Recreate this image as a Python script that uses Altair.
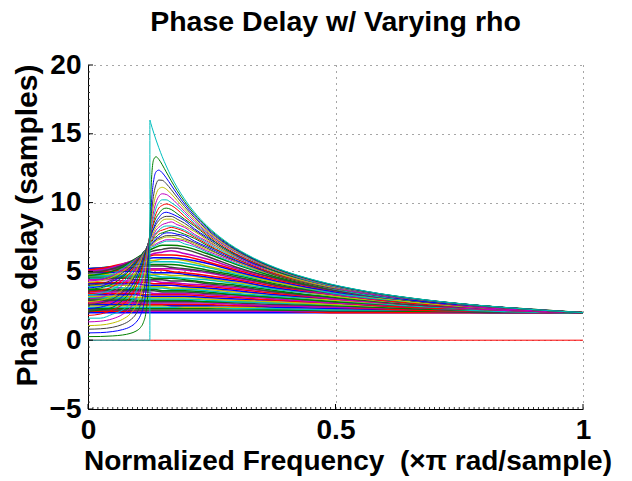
import pandas as pd
import altair as alt

# ---------------- data read / tabulated for the chart ----------------
# frequency grids (x pi rad/sample)
X_FINE = [0, 0.025, 0.05, 0.07, 0.085, 0.097, 0.106, 0.112, 0.117, 0.1205, 0.123, 0.125,
          0.127, 0.1295, 0.133, 0.1375, 0.143, 0.15, 0.158, 0.168, 0.18, 0.195, 0.215,
          0.24, 0.275, 0.32, 0.38, 0.46, 0.56, 0.68, 0.83, 1.0]
X_COARSE = [0, 0.04, 0.075, 0.1, 0.117, 0.133, 0.15, 0.168, 0.195, 0.24, 0.3, 0.38, 0.5, 0.65, 0.83, 1.0]

# phase delay (samples) for each rho, on X_COARSE
pd_000 = [2.0, 2.0, 2.0, 2.0, 2.0, 2.0, 2.0, 2.0, 2.0, 2.0, 2.0, 2.0, 2.0, 2.0, 2.0, 2.0]
pd_002 = [2.1, 2.1, 2.1, 2.1, 2.1, 2.1, 2.1, 2.1, 2.1, 2.1, 2.1, 2.1, 2.0, 2.0, 2.0, 2.0]
pd_004 = [2.2, 2.2, 2.2, 2.1, 2.1, 2.1, 2.1, 2.1, 2.1, 2.1, 2.1, 2.1, 2.1, 2.1, 2.0, 2.0]
pd_006 = [2.2, 2.2, 2.2, 2.2, 2.2, 2.2, 2.2, 2.2, 2.2, 2.2, 2.2, 2.2, 2.1, 2.1, 2.0, 2.0]
pd_008 = [2.3, 2.3, 2.3, 2.3, 2.3, 2.3, 2.3, 2.3, 2.3, 2.3, 2.3, 2.2, 2.2, 2.1, 2.1, 2.0]
pd_010 = [2.4, 2.4, 2.4, 2.4, 2.4, 2.4, 2.4, 2.4, 2.4, 2.4, 2.3, 2.3, 2.2, 2.2, 2.1, 2.0]
pd_012 = [2.5, 2.5, 2.5, 2.5, 2.5, 2.5, 2.5, 2.5, 2.4, 2.4, 2.4, 2.4, 2.3, 2.2, 2.1, 2.0]
pd_014 = [2.6, 2.6, 2.6, 2.6, 2.6, 2.6, 2.6, 2.5, 2.5, 2.5, 2.5, 2.4, 2.3, 2.2, 2.1, 2.0]
pd_016 = [2.7, 2.7, 2.7, 2.7, 2.6, 2.6, 2.6, 2.6, 2.6, 2.6, 2.5, 2.5, 2.4, 2.2, 2.1, 2.0]
pd_018 = [2.8, 2.8, 2.8, 2.7, 2.7, 2.7, 2.7, 2.7, 2.7, 2.7, 2.6, 2.5, 2.4, 2.3, 2.1, 2.0]
pd_020 = [2.9, 2.9, 2.9, 2.8, 2.8, 2.8, 2.8, 2.8, 2.8, 2.8, 2.7, 2.6, 2.5, 2.3, 2.1, 2.0]
pd_022 = [3.0, 3.0, 3.0, 2.9, 2.9, 2.9, 2.9, 2.9, 2.9, 2.8, 2.8, 2.7, 2.5, 2.3, 2.1, 2.0]
pd_024 = [3.1, 3.1, 3.1, 3.0, 3.0, 3.0, 3.0, 3.0, 3.0, 2.9, 2.8, 2.7, 2.6, 2.4, 2.1, 2.0]
pd_026 = [3.2, 3.2, 3.2, 3.1, 3.1, 3.1, 3.1, 3.1, 3.1, 3.0, 2.9, 2.8, 2.6, 2.4, 2.2, 2.0]
pd_028 = [3.3, 3.3, 3.3, 3.3, 3.2, 3.2, 3.2, 3.2, 3.2, 3.1, 3.0, 2.9, 2.7, 2.4, 2.2, 2.0]
pd_030 = [3.4, 3.4, 3.4, 3.4, 3.3, 3.3, 3.3, 3.3, 3.3, 3.2, 3.1, 2.9, 2.7, 2.4, 2.2, 2.0]
pd_032 = [3.5, 3.5, 3.5, 3.5, 3.5, 3.4, 3.4, 3.4, 3.4, 3.3, 3.2, 3.0, 2.7, 2.5, 2.2, 2.0]
pd_034 = [3.6, 3.6, 3.6, 3.6, 3.6, 3.6, 3.5, 3.5, 3.5, 3.4, 3.3, 3.1, 2.8, 2.5, 2.2, 2.0]
pd_036 = [3.7, 3.7, 3.7, 3.7, 3.7, 3.7, 3.6, 3.6, 3.6, 3.5, 3.3, 3.1, 2.8, 2.5, 2.2, 2.0]
pd_038 = [3.9, 3.9, 3.8, 3.8, 3.8, 3.8, 3.8, 3.7, 3.7, 3.6, 3.4, 3.2, 2.9, 2.5, 2.2, 2.0]
pd_040 = [4.0, 4.0, 4.0, 3.9, 3.9, 3.9, 3.9, 3.8, 3.8, 3.7, 3.5, 3.3, 2.9, 2.6, 2.2, 2.0]
pd_042 = [4.1, 4.1, 4.1, 4.1, 4.0, 4.0, 4.0, 4.0, 3.9, 3.8, 3.6, 3.3, 3.0, 2.6, 2.2, 2.0]
pd_044 = [4.2, 4.2, 4.2, 4.2, 4.2, 4.1, 4.1, 4.1, 4.0, 3.9, 3.7, 3.4, 3.0, 2.6, 2.2, 2.0]
pd_046 = [4.4, 4.4, 4.3, 4.3, 4.3, 4.3, 4.2, 4.2, 4.1, 4.0, 3.8, 3.5, 3.0, 2.6, 2.2, 2.0]
pd_048 = [4.5, 4.5, 4.5, 4.4, 4.4, 4.4, 4.4, 4.3, 4.3, 4.1, 3.9, 3.5, 3.1, 2.6, 2.3, 2.0]
pd_050 = [4.6, 4.6, 4.6, 4.6, 4.6, 4.5, 4.5, 4.5, 4.4, 4.2, 4.0, 3.6, 3.1, 2.7, 2.3, 2.0]
pd_052 = [4.7, 4.7, 4.7, 4.7, 4.7, 4.7, 4.6, 4.6, 4.5, 4.4, 4.1, 3.7, 3.2, 2.7, 2.3, 2.0]
pd_054 = [4.8, 4.8, 4.8, 4.8, 4.8, 4.8, 4.8, 4.7, 4.7, 4.5, 4.2, 3.8, 3.2, 2.7, 2.3, 2.0]
pd_056 = [4.9, 4.9, 5.0, 5.0, 5.0, 4.9, 4.9, 4.9, 4.8, 4.6, 4.3, 3.8, 3.3, 2.7, 2.3, 2.0]
pd_058 = [5.0, 5.0, 5.1, 5.1, 5.1, 5.1, 5.1, 5.0, 4.9, 4.7, 4.4, 3.9, 3.3, 2.7, 2.3, 2.0]
pd_060 = [5.1, 5.1, 5.2, 5.2, 5.2, 5.2, 5.2, 5.2, 5.1, 4.9, 4.5, 4.0, 3.3, 2.8, 2.3, 2.0]
pd_062 = [5.2, 5.2, 5.3, 5.3, 5.4, 5.4, 5.4, 5.3, 5.2, 5.0, 4.6, 4.0, 3.4, 2.8, 2.3, 2.0]
pd_064 = [5.2, 5.3, 5.4, 5.5, 5.5, 5.5, 5.5, 5.5, 5.4, 5.1, 4.7, 4.1, 3.4, 2.8, 2.3, 2.0]
pd_066 = [5.2, 5.3, 5.4, 5.6, 5.6, 5.7, 5.7, 5.7, 5.6, 5.3, 4.8, 4.2, 3.4, 2.8, 2.3, 2.0]
pd_068 = [5.2, 5.3, 5.5, 5.7, 5.8, 5.8, 5.9, 5.9, 5.8, 5.4, 4.9, 4.2, 3.5, 2.8, 2.3, 2.0]
pd_070 = [5.2, 5.3, 5.5, 5.8, 5.9, 6.0, 6.0, 6.0, 5.9, 5.6, 5.0, 4.3, 3.5, 2.9, 2.3, 2.0]
pd_072 = [5.1, 5.3, 5.6, 5.8, 6.0, 6.2, 6.2, 6.2, 6.1, 5.7, 5.1, 4.4, 3.6, 2.9, 2.3, 2.0]
pd_074 = [5.0, 5.2, 5.6, 5.9, 6.1, 6.3, 6.4, 6.5, 6.3, 5.9, 5.2, 4.5, 3.6, 2.9, 2.3, 2.0]
pd_076 = [4.9, 5.1, 5.5, 6.0, 6.3, 6.5, 6.6, 6.7, 6.6, 6.1, 5.3, 4.5, 3.6, 2.9, 2.4, 2.0]
pd_078 = [4.7, 4.9, 5.4, 6.0, 6.4, 6.7, 6.9, 6.9, 6.8, 6.3, 5.5, 4.6, 3.7, 2.9, 2.4, 2.0]

# phase delay (samples) for each rho, on X_FINE
pd_080 = [4.5, 4.5, 4.8, 5.2, 5.6, 5.9, 6.1, 6.3, 6.5, 6.6, 6.6, 6.7, 6.7, 6.8, 6.8, 6.9,
          7.0, 7.1, 7.2, 7.2, 7.2, 7.0, 6.8, 6.4, 5.9, 5.3, 4.7, 4.0, 3.3, 2.8, 2.4, 2.0]
pd_081 = [4.3, 4.4, 4.7, 5.1, 5.5, 5.9, 6.1, 6.3, 6.5, 6.6, 6.7, 6.7, 6.8, 6.9, 6.9, 7.0,
          7.1, 7.2, 7.3, 7.3, 7.3, 7.2, 6.9, 6.5, 6.0, 5.4, 4.7, 4.0, 3.4, 2.8, 2.4, 2.0]
pd_082 = [4.2, 4.3, 4.6, 5.0, 5.4, 5.8, 6.1, 6.4, 6.5, 6.7, 6.7, 6.8, 6.9, 6.9, 7.0, 7.2,
          7.3, 7.4, 7.5, 7.5, 7.4, 7.3, 7.0, 6.6, 6.1, 5.4, 4.7, 4.0, 3.4, 2.8, 2.4, 2.0]
pd_083 = [4.0, 4.1, 4.4, 4.9, 5.3, 5.8, 6.1, 6.4, 6.6, 6.7, 6.8, 6.9, 6.9, 7.0, 7.1, 7.3,
          7.4, 7.5, 7.6, 7.6, 7.6, 7.4, 7.1, 6.7, 6.1, 5.5, 4.7, 4.0, 3.4, 2.8, 2.4, 2.0]
pd_084 = [3.8, 3.9, 4.3, 4.7, 5.2, 5.7, 6.1, 6.4, 6.6, 6.8, 6.9, 6.9, 7.0, 7.1, 7.2, 7.4,
          7.5, 7.7, 7.8, 7.8, 7.7, 7.6, 7.2, 6.8, 6.2, 5.5, 4.8, 4.1, 3.4, 2.8, 2.4, 2.0]
pd_085 = [3.7, 3.8, 4.1, 4.6, 5.1, 5.6, 6.1, 6.4, 6.6, 6.8, 6.9, 7.0, 7.1, 7.2, 7.4, 7.5,
          7.7, 7.8, 7.9, 8.0, 7.9, 7.7, 7.4, 6.9, 6.3, 5.6, 4.8, 4.1, 3.4, 2.9, 2.4, 2.0]
pd_086 = [3.5, 3.6, 3.9, 4.4, 4.9, 5.5, 6.0, 6.3, 6.6, 6.8, 7.0, 7.1, 7.2, 7.3, 7.5, 7.7,
          7.9, 8.0, 8.1, 8.2, 8.1, 7.9, 7.5, 7.0, 6.3, 5.6, 4.8, 4.1, 3.4, 2.9, 2.4, 2.0]
pd_087 = [3.3, 3.4, 3.7, 4.2, 4.8, 5.4, 5.9, 6.3, 6.6, 6.9, 7.0, 7.2, 7.3, 7.4, 7.6, 7.8,
          8.0, 8.2, 8.3, 8.3, 8.2, 8.0, 7.6, 7.1, 6.4, 5.7, 4.9, 4.1, 3.4, 2.9, 2.4, 2.0]
pd_088 = [3.0, 3.1, 3.5, 4.0, 4.6, 5.2, 5.8, 6.2, 6.6, 6.9, 7.1, 7.2, 7.4, 7.5, 7.7, 8.0,
          8.2, 8.4, 8.5, 8.6, 8.4, 8.2, 7.7, 7.2, 6.5, 5.7, 4.9, 4.1, 3.4, 2.9, 2.4, 2.0]
pd_089 = [2.8, 2.9, 3.2, 3.7, 4.3, 5.0, 5.7, 6.2, 6.6, 6.9, 7.1, 7.3, 7.5, 7.6, 7.9, 8.2,
          8.4, 8.7, 8.8, 8.8, 8.6, 8.3, 7.9, 7.3, 6.5, 5.8, 4.9, 4.1, 3.5, 2.9, 2.4, 2.0]
pd_090 = [2.6, 2.7, 3.0, 3.5, 4.1, 4.8, 5.5, 6.1, 6.6, 6.9, 7.2, 7.4, 7.5, 7.8, 8.1, 8.4,
          8.7, 8.9, 9.0, 9.0, 8.8, 8.5, 8.0, 7.4, 6.6, 5.8, 5.0, 4.2, 3.5, 2.9, 2.4, 2.0]
pd_091 = [2.3, 2.4, 2.7, 3.2, 3.8, 4.5, 5.3, 5.9, 6.5, 6.9, 7.2, 7.4, 7.6, 7.9, 8.2, 8.6,
          8.9, 9.2, 9.3, 9.2, 9.0, 8.7, 8.1, 7.5, 6.7, 5.8, 5.0, 4.2, 3.5, 2.9, 2.4, 2.0]
pd_092 = [2.1, 2.2, 2.4, 2.9, 3.5, 4.2, 5.0, 5.7, 6.4, 6.9, 7.2, 7.5, 7.8, 8.1, 8.5, 8.9,
          9.2, 9.5, 9.6, 9.5, 9.2, 8.8, 8.3, 7.6, 6.7, 5.9, 5.0, 4.2, 3.5, 2.9, 2.4, 2.0]
pd_093 = [1.8, 1.9, 2.2, 2.6, 3.1, 3.9, 4.7, 5.5, 6.2, 6.8, 7.2, 7.6, 7.9, 8.2, 8.7, 9.2,
          9.6, 9.8, 9.9, 9.8, 9.5, 9.0, 8.4, 7.7, 6.8, 5.9, 5.1, 4.2, 3.5, 2.9, 2.4, 2.0]
pd_094 = [1.6, 1.6, 1.9, 2.2, 2.7, 3.5, 4.3, 5.2, 6.0, 6.7, 7.2, 7.6, 8.0, 8.5, 9.0, 9.6,
          10.0, 10.2, 10.2, 10.0, 9.7, 9.2, 8.5, 7.8, 6.9, 6.0, 5.1, 4.2, 3.5, 2.9, 2.4, 2.0]
pd_095 = [1.33, 1.38, 1.56, 1.88, 2.34, 3.00, 3.86, 4.73, 5.72, 6.54, 7.18, 7.69, 8.18, 8.75, 9.41, 10.03,
          10.45, 10.64, 10.59, 10.34, 9.92, 9.36, 8.65, 7.86, 6.94, 6.03, 5.12, 4.26, 3.52, 2.91, 2.40, 2.00]
pd_096 = [1.06, 1.10, 1.25, 1.52, 1.90, 2.48, 3.28, 4.17, 5.27, 6.27, 7.08, 7.75, 8.40, 9.12, 9.93, 10.60,
          11.00, 11.11, 10.98, 10.64, 10.15, 9.54, 8.78, 7.95, 7.01, 6.07, 5.15, 4.28, 3.53, 2.92, 2.40, 2.00]
pd_097 = [0.80, 0.83, 0.94, 1.15, 1.45, 1.91, 2.59, 3.42, 4.59, 5.80, 6.89, 7.81, 8.71, 9.68, 10.65, 11.33,
          11.64, 11.62, 11.38, 10.95, 10.39, 9.72, 8.91, 8.05, 7.08, 6.12, 5.18, 4.30, 3.54, 2.92, 2.40, 2.00]
pd_098 = [0.53, 0.55, 0.63, 0.77, 0.97, 1.30, 1.80, 2.46, 3.55, 4.94, 6.44, 7.88, 9.26, 10.61, 11.68, 12.24,
          12.36, 12.17, 11.80, 11.27, 10.63, 9.90, 9.04, 8.15, 7.14, 6.16, 5.21, 4.31, 3.55, 2.93, 2.41, 2.00]
pd_099 = [0.26, 0.27, 0.31, 0.38, 0.49, 0.66, 0.92, 1.30, 2.00, 3.20, 5.17, 7.94, 10.61, 12.35, 13.16, 13.33,
          13.15, 12.75, 12.23, 11.59, 10.87, 10.08, 9.17, 8.24, 7.21, 6.21, 5.23, 4.33, 3.56, 2.94, 2.41, 2.00]
pd_100 = [0, 0, 0, 0, 0, 0, 0, 0, 0, 0, 0, 0, 0, 0, 0, 0]

# limiting (cyan) curve
X_LIMIT = [0, 0.125, 0.125, 0.127, 0.1295, 0.133, 0.1375, 0.143, 0.15, 0.158, 0.168, 0.18, 0.195,
           0.215, 0.24, 0.275, 0.32, 0.38, 0.46, 0.56, 0.68, 0.83, 1.0]
pd_limit = [0, 0, 16.0, 15.75, 15.44, 15.04, 14.55, 13.99, 13.33, 12.66, 11.90, 11.11, 10.26,
            9.30, 8.33, 7.27, 6.25, 5.26, 4.35, 3.57, 2.94, 2.41, 2.00]

# axis ticks
X_TICKS = [0, 0.5, 1]
Y_TICKS = [-5, 0, 5, 10, 15, 20]
X_MINOR = [round(i * 0.01, 2) for i in range(1, 100)]
Y_MINOR = [v * 0.5 - 5 for v in range(1, 50)]

COLOR_ORDER = ["#0000FF", "#008000", "#FF0000", "#00BFBF", "#BF00BF", "#BFBF00", "#404040"]

curves = [(0.00, X_COARSE, pd_000), (0.02, X_COARSE, pd_002), (0.04, X_COARSE, pd_004),
          (0.06, X_COARSE, pd_006), (0.08, X_COARSE, pd_008), (0.10, X_COARSE, pd_010),
          (0.12, X_COARSE, pd_012), (0.14, X_COARSE, pd_014), (0.16, X_COARSE, pd_016),
          (0.18, X_COARSE, pd_018), (0.20, X_COARSE, pd_020), (0.22, X_COARSE, pd_022),
          (0.24, X_COARSE, pd_024), (0.26, X_COARSE, pd_026), (0.28, X_COARSE, pd_028),
          (0.30, X_COARSE, pd_030), (0.32, X_COARSE, pd_032), (0.34, X_COARSE, pd_034),
          (0.36, X_COARSE, pd_036), (0.38, X_COARSE, pd_038), (0.40, X_COARSE, pd_040),
          (0.42, X_COARSE, pd_042), (0.44, X_COARSE, pd_044), (0.46, X_COARSE, pd_046),
          (0.48, X_COARSE, pd_048), (0.50, X_COARSE, pd_050), (0.52, X_COARSE, pd_052),
          (0.54, X_COARSE, pd_054), (0.56, X_COARSE, pd_056), (0.58, X_COARSE, pd_058),
          (0.60, X_COARSE, pd_060), (0.62, X_COARSE, pd_062), (0.64, X_COARSE, pd_064),
          (0.66, X_COARSE, pd_066), (0.68, X_COARSE, pd_068), (0.70, X_COARSE, pd_070),
          (0.72, X_COARSE, pd_072), (0.74, X_COARSE, pd_074), (0.76, X_COARSE, pd_076),
          (0.78, X_COARSE, pd_078),
          (0.80, X_FINE, pd_080), (0.81, X_FINE, pd_081), (0.82, X_FINE, pd_082),
          (0.83, X_FINE, pd_083), (0.84, X_FINE, pd_084), (0.85, X_FINE, pd_085),
          (0.86, X_FINE, pd_086), (0.87, X_FINE, pd_087), (0.88, X_FINE, pd_088),
          (0.89, X_FINE, pd_089), (0.90, X_FINE, pd_090), (0.91, X_FINE, pd_091),
          (0.92, X_FINE, pd_092), (0.93, X_FINE, pd_093), (0.94, X_FINE, pd_094),
          (0.95, X_FINE, pd_095), (0.96, X_FINE, pd_096), (0.97, X_FINE, pd_097),
          (0.98, X_FINE, pd_098), (0.99, X_FINE, pd_099), (1.00, X_COARSE, pd_100)]

# ---------------- build table ----------------
rows = []
seq = 0
for k, (rho, xs, ys) in enumerate(curves):
    col = COLOR_ORDER[int(round(rho * 100)) % 7]
    sw = 1.5 if xs is X_COARSE and rho < 1 else 1.0
    for x, y in zip(xs, ys):
        rows.append({"x": x, "y": y, "k": k, "col": col, "sw": sw, "i": seq})
        seq += 1
for x, y in zip(X_LIMIT, pd_limit):
    rows.append({"x": x, "y": y, "k": len(curves), "col": "#00BFBF", "sw": 1.0, "i": seq})
    seq += 1
df = pd.DataFrame(rows)

FONT = "Liberation Sans"
FS = 28
W, H = 495, 344

xscale = alt.Scale(domain=[0, 1], nice=False, zero=False)
yscale = alt.Scale(domain=[-5, 20], nice=False, zero=False)

lines = alt.Chart(df).mark_line(interpolate="monotone").encode(
    x=alt.X("x:Q", scale=xscale,
            axis=alt.Axis(values=X_TICKS, format="~g", ticks=False, tickSize=0, labelFlush=False,
                          labelFont=FONT, labelFontSize=FS, labelFontWeight="bold", labelColor="black",
                          labelPadding=7, domainColor="black", domainWidth=1,
                          grid=True, gridDash=[1, 5], gridColor="#000", gridOpacity=0.7, gridWidth=1,
                          title="Normalized Frequency\u00a0 (×π rad/sample)",
                          titleFont=FONT, titleFontSize=FS, titleFontWeight="bold", titleColor="black",
                          titleX=259.5, titleY=60, titleAlign="center", titleBaseline="alphabetic")),
    y=alt.Y("y:Q", scale=yscale,
            axis=alt.Axis(values=Y_TICKS, ticks=False, tickSize=0, labelFlush=False,
                          labelFont=FONT, labelFontSize=FS, labelFontWeight="bold", labelColor="black",
                          labelPadding=7, domainColor="black", domainWidth=1,
                          grid=True, gridDash=[1, 5], gridColor="#000", gridOpacity=0.7, gridWidth=1,
                          title="Phase delay (samples)",
                          titleFont=FONT, titleFontSize=30, titleFontWeight="bold", titleColor="black",
                          titleX=-52, titleY=160, titleAlign="center", titleBaseline="alphabetic",
                          titleAngle=270)),
    color=alt.Color("col:N", scale=None),
    strokeWidth=alt.StrokeWidth("sw:Q", scale=None),
    detail="k:N",
    order="i:Q",
)

xmaj = alt.Chart(pd.DataFrame({"t": X_TICKS})).mark_rule(color="black", strokeWidth=1).encode(
    x=alt.X("t:Q", scale=xscale), y=alt.value(H), y2=alt.value(H - 5))
xmin = alt.Chart(pd.DataFrame({"t": X_MINOR})).mark_rule(color="#333", strokeWidth=1).encode(
    x=alt.X("t:Q", scale=xscale), y=alt.value(H), y2=alt.value(H - 2))
ymaj = alt.Chart(pd.DataFrame({"t": Y_TICKS})).mark_rule(color="black", strokeWidth=1).encode(
    y=alt.Y("t:Q", scale=yscale), x=alt.value(0), x2=alt.value(5))
ymin = alt.Chart(pd.DataFrame({"t": Y_MINOR})).mark_rule(color="#333", strokeWidth=1).encode(
    y=alt.Y("t:Q", scale=yscale), x=alt.value(0), x2=alt.value(2))

chart = alt.layer(lines, xmin, ymin, xmaj, ymaj).properties(
    width=W, height=H,
    title=alt.TitleParams("Phase Delay w/ Varying rho", font=FONT, fontSize=28.5, fontWeight="bold",
                          color="black", anchor="middle", baseline="alphabetic", offset=19, dy=27),
    autosize=alt.AutoSizeParams(type="none"),
    padding={"left": 88, "top": 65, "right": 49, "bottom": 72},
).configure_view(stroke=None)

chart.save("out.html", embed_options={"renderer": "svg", "actions": False})
